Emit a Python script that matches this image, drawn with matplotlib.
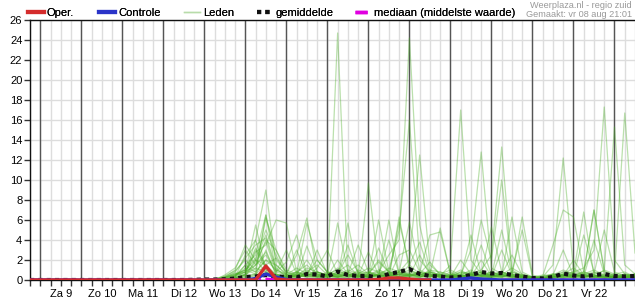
import numpy as np
import pandas as pd
import matplotlib
matplotlib.use("Agg")
import matplotlib.pyplot as plt
from matplotlib.lines import Line2D

# ---------------- data ----------------
times = pd.date_range("2025-08-08 18:00", periods=60, freq="6h")
member_start = 16  # first 6-hourly step drawn for the members (earlier all dry)

day_starts = pd.date_range("2025-08-09", "2025-08-23", freq="D")
day_centres = pd.date_range("2025-08-09 12:00", "2025-08-22 12:00", freq="D")
day_labels = ["Za 9", "Zo 10", "Ma 11", "Di 12", "Wo 13", "Do 14", "Vr 15",
              "Za 16", "Zo 17", "Ma 18", "Di 19", "Wo 20", "Do 21", "Vr 22"]
six_hourly = pd.date_range("2025-08-08 18:00", "2025-08-23 12:00", freq="6h")
y_ticks = list(range(0, 27, 2))

# ensemble members, values from step 16 (vr 12 18h) to step 59, 6-hourly
members_txt = [
 "0  0 0 0 0.2  0.5 1.2 0.8 0.3  0.2 0.5 1.0 0.4  0.5 24.7 0.5 0.2  0.3 0.8 0.4 0.2  0.1 0.3 0.6 0.2  0 0.2 0.5 0.3  0.8 0.4 0.2 0.1  0 0 0.3 0.5  0.2 0.6 0.3 0.1  0.2 0.4 0.1",
 "0  0 0.1 0.3 0.5  1.0 2.0 1.5 0.5  0.3 0.2 0.8 1.5  0.5 0.3 0.2 0.6  1.2 0.8 2.5 4.0  24.2 5.5 1.0 0.4  0.2 0.5 0.3 0.8  0.4 0.2 0.1 0.3  0.1 0 0.2 0.6  1.2 0.5 0.3 0.2  0.1 0.3 0.2",
 "0  0 0 0.2 0.8  2.2 3.5 4.2 1.0  0.5 1.2 0.6 0.3  0.2 0.8 1.5 0.4  0.3 0.6 1.0 5.0  16.0 2.0 0.8 0.3  0.5 1.0 0.4 0.2  0.3 0.8 0.5 0.2  0 0.1 0.4 0.2  0.3 0.2 0.6 0.9  0.4 0.2 0.3",
 "0  0 0 0 0.3  1.5 2.5 6.5 2.0  0.8 0.4 0.3 1.2  3.0 0.6 0.4 0.2  0.5 1.0 0.6 0.8  2.0 12.5 1.5 0.6  0.3 0.2 0.8 0.4  0.2 0.5 1.2 0.6  0.3 0.1 0 0.2  0.5 0.8 0.4 0.3  0.2 0.5 0.3",
 "0  0 0 0.5 1.2  3.0 1.5 2.8 0.6  0.3 0.8 1.5 0.5  0.4 1.2 0.6 0.3  0.8 0.4 0.3 0.6  1.0 0.5 0.8 0.4  1.5 17.0 2.0 0.6  0.4 0.3 0.8 0.5  0.2 0.1 0.5 1.0  0.6 0.3 0.2 0.4  0.3 0.2 0.4",
 "0  0 0 0 0.2  0.6 4.0 9.0 1.5  0.5 0.3 0.6 2.0  0.8 0.4 0.3 1.0  0.6 1.8 0.8 0.3  0.5 0.8 0.4 0.6  1.0 0.5 3.0 12.8  1.2 0.6 0.3 0.2  0.1 0 0.3 0.8  0.4 0.6 1.0 0.5  0.3 0.2 0.6",
 "0  0 0.1 0.4 0.9  2.0 1.0 6.2 3.0  1.0 0.6 0.5 0.8  0.4 0.3 5.7 0.6  0.3 0.5 1.2 0.8  0.6 0.4 1.0 0.8  0.5 0.3 0.6 1.0  2.5 13.3 1.0 0.4  0.2 0.1 0.6 0.4  0.8 0.5 0.3 0.2  0.4 0.6 0.3",
 "0  0 0 0.2 0.5  0.8 2.8 3.5 6.0  5.7 0.8 0.4 0.3  0.6 1.0 0.5 0.3  9.7 1.0 0.5 0.8  0.4 0.6 0.3 0.5  0.3 0.8 0.5 6.0  2.0 10.0 0.8 0.5  0.3 0.2 0.1 0.4  0.6 0.3 0.4 0.2  0.5 0.3 0.2",
 "0  0 0 0 0.4  1.2 0.8 2.0 1.0  0.6 2.5 6.2 0.8  0.5 0.3 0.8 1.5  0.6 0.4 0.3 5.8  1.5 0.6 0.4 0.3  0.2 0.5 1.0 0.4  0.6 0.8 0.4 0.3  0.2 0.3 1.5 12.2  1.0 0.5 0.8 0.4  0.3 0.2 0.5",
 "0  0 0 0.3 0.7  0.4 2.0 4.5 1.2  0.3 0.6 5.7 2.0  0.8 0.5 0.4 0.3  0.6 2.0 0.8 0.5  0.3 0.8 0.6 0.4  0.3 0.2 0.5 0.8  0.4 0.6 0.3 0.5  0.2 0.1 0.3 0.6  0.8 1.2 3.0 17.3  2.0 0.6 0.4",
 "0  0 0 0.1 0.3  0.8 3.2 1.5 0.5  0.4 0.3 3.4 0.8  0.5 0.8 0.6 0.4  0.3 0.6 0.4 0.8  5.8 1.0 0.5 0.3  0.8 0.4 0.6 0.3  0.5 0.4 6.3 0.8  0.3 0.2 0.4 0.6  0.5 0.4 0.3 1.0  15.3 1.5 0.6",
 "0  0 0 0 0.2  0.5 1.5 2.5 0.8  1.8 4.5 0.6 0.4  0.3 0.5 1.0 0.6  0.8 0.4 6.0 0.6  0.5 0.3 0.8 0.5  0.4 0.6 0.3 0.5  5.3 0.8 0.4 0.3  0.2 0.3 0.5 0.4  0.3 0.6 7.0 0.8  0.5 16.7 2.7",
 "0  0 0 0.2 0.6  1.0 2.2 5.0 2.5  0.5 0.8 0.4 3.0  0.6 0.3 0.5 0.8  0.4 0.3 0.6 1.0  0.5 0.8 4.5 4.8  0.6 0.3 0.5 0.4  0.8 0.4 0.5 0.3  0.2 0.4 3.5 7.0  6.3 0.8 0.5 0.3  0.2 0.4 0.3",
 "0  0 0 0.1 0.3  2.5 4.0 1.0 0.6  0.3 0.5 0.8 0.6  0.4 5.7 0.8 0.4  0.3 0.5 0.4 0.6  0.8 0.6 0.3 0.5  0.4 0.8 0.6 0.4  0.3 0.6 0.4 6.3  0.5 0.2 0.3 0.4  0.6 6.8 0.5 0.3  0.4 0.3 0.6",
 "0  0 0 0 0.2  0.6 1.8 3.8 0.8  3.0 0.6 0.4 0.3  0.8 0.5 3.5 0.6  0.4 6.0 0.8 0.5  0.6 0.4 0.5 0.3  0.5 0.3 4.5 0.6  0.4 5.0 0.6 0.3  0.2 0.1 0.2 0.5  0.4 0.8 7.0 1.0  0.6 0.4 0.2",
 "0  0 0 0.3 1.0  3.5 2.0 0.8 0.5  0.4 0.6 2.0 0.5  0.3 0.8 0.5 0.4  2.8 0.5 0.3 2.5  3.0 0.8 0.4 0.5  0.3 0.6 0.8 0.4  0.6 0.3 0.8 5.0  0.3 0.2 0.4 0.3  0.5 0.3 0.6 5.0  0.8 0.4 0.5",
 "0  0 0 0 0.1  0.4 0.6 6.5 0.8  0.5 0.3 0.6 0.4  0.3 0.6 2.5 0.8  0.5 0.4 0.3 6.3  1.0 0.6 0.8 0.5  0.3 0.4 0.6 3.5  0.5 0.8 0.4 0.3  0.2 0.3 0.6 0.4  2.0 0.5 0.3 0.4  0.6 0.8 0.3",
 "0  0 0 0.2 0.4  1.5 0.8 2.0 1.5  0.6 3.0 0.5 0.6  0.4 0.3 0.6 3.5  0.8 0.5 4.0 0.6  0.4 0.3 0.5 5.2  0.6 0.4 0.3 0.8  0.5 0.3 0.6 0.4  0.3 0.5 0.4 0.8  0.6 0.3 0.4 0.5  0.3 0.6 0.4",
 "0  0 0.1 0.3 0.6  0.8 1.5 4.0 3.0  0.6 0.4 1.2 0.8  0.5 0.6 0.4 0.3  0.6 0.8 0.5 0.4  1.5 3.8 0.6 0.4  0.3 2.0 0.6 0.5  0.4 0.6 2.5 0.5  0.3 0.2 0.5 3.0  0.4 0.3 4.0 0.6  0.4 0.5 0.3",
 "0  0 0 0 0.3  0.5 3.0 1.2 0.4  0.3 0.8 0.5 0.6  0.4 2.0 0.6 0.4  0.3 0.5 0.8 0.6  0.4 0.6 1.8 0.5  0.3 0.5 0.4 0.6  0.8 0.5 0.3 0.4  0.2 0.4 0.6 0.5  0.3 4.5 0.8 0.3  0.2 0.5 0.6",
 "0  0 0 0.1 0.2  0.3 0.6 1.5 2.2  0.8 0.5 0.3 0.4  0.6 0.4 0.8 0.5  0.4 3.2 0.6 0.3  0.5 0.4 0.3 0.8  0.4 0.3 0.6 0.5  0.3 3.0 0.5 0.4  0.3 0.2 0.3 0.5  0.4 0.6 0.5 0.3  0.4 0.3 0.5",
 "0  0 0 0 0.1  0.2 0.5 0.8 0.3  0.2 0.4 0.6 0.3  0.2 0.3 0.5 0.4  0.3 0.2 0.4 0.5  0.3 0.2 0.4 0.3  0.2 0.3 0.5 0.4  0.3 0.4 0.2 0.3  0.1 0.2 0.3 0.4  0.2 0.3 0.4 0.2  0.3 0.2 0.4",
 "0  0 0 0.2 0.5  1.0 0.6 0.4 0.3  0.5 0.3 0.4 0.6  0.3 0.5 0.4 0.3  0.5 0.4 0.6 0.3  0.4 2.5 0.5 0.3  0.6 0.4 0.3 2.0  0.4 0.5 0.3 0.2  0.3 0.1 0.2 0.3  0.5 0.4 0.3 0.6  0.3 0.4 0.2",
 "0  0 0 0 0  0.2 0.4 3.0 0.5  0.3 0.2 0.6 0.8  0.4 0.3 0.2 0.5  0.3 0.6 0.4 0.8  0.5 0.3 0.6 0.4  0.3 0.2 0.4 0.5  0.3 0.2 0.6 0.4  0.2 0.3 0.4 0.2  0.3 0.5 0.3 0.4  0.2 0.3 0.3",
 "0  0 0 0.1 0.4  0.8 5.5 1.0 0.4  0.3 0.5 0.3 0.2  0.4 0.3 0.6 0.4  0.3 0.4 0.5 0.3  0.6 0.4 0.3 0.5  0.3 0.4 0.3 0.2  0.3 0.5 0.4 0.3  0.2 0.1 0.2 0.3  0.4 0.3 0.5 0.3  0.2 0.4 0.3",
]
members = [[float(v) for v in s.split()] for s in members_txt]

# operational run (ends ma 18 12h), control, mean and median
oper = [0]*22 + [0.0, 1.4, 0.1, 0.0, 0.0, 0.0, 0.0, 0.0, 0.0, 0.0, 0.0, 0.0,
                 0.05, 0.2, 0.2, 0.1, 0.0, 0.0]
control = [0]*22 + [0.15, 0.6, 0.3, 0.05, 0, 0, 0, 0, 0, 0, 0, 0, 0, 0, 0, 0,
                    0, 0, 0, 0, 0.1, 0.2, 0.1, 0.05, 0, 0, 0, 0, 0, 0, 0, 0,
                    0, 0, 0, 0, 0, 0]
mean = [0]*16 + [0.02, 0.05, 0.05, 0.07, 0.15, 0.3, 0.35, 0.5, 0.35, 0.3, 0.25,
                 0.6, 0.55, 0.35, 0.85, 0.5, 0.4, 0.4, 0.25, 0.6, 0.8, 1.1, 0.6,
                 0.4, 0.35, 0.25, 0.3, 0.5, 0.8, 0.65, 0.7, 0.5, 0.35, 0.2, 0.15,
                 0.3, 0.65, 0.45, 0.35, 0.5, 0.6, 0.4, 0.35, 0.4]
median = [0]*22 + [0.0, 0.1, 0.05] + [0]*35

# ---------------- figure ----------------
plt.rcParams['font.family'] = ['Liberation Sans', 'DejaVu Sans']
fig = plt.figure(figsize=(6.35, 3.0), dpi=100)
ax = fig.add_axes([30/635, 20/300, 605/635, 260/300])

RED, BLUE, MAG = '#d42c2c', '#2a34c8', '#e000e0'
green = '#4caf28'
for m in members:
    ax.plot(times[member_start:], m, color=green, lw=0.9, alpha=0.38, zorder=3)

ax.plot(times, mean, color='#111111', lw=3, linestyle=(0, (1, 1)), zorder=5)
ax.plot(times, median, color=MAG, lw=2, linestyle='-.', zorder=6)
ax.plot(times, control, color=BLUE, lw=2.4, zorder=7)
ax.plot(times[:len(oper)], oper, color=RED, lw=2.4, zorder=8)

ax.set_xlim(times[0], times[-1])
ax.set_ylim(0, 26)
ax.set_yticks(y_ticks)
ax.set_xticks(day_centres)
ax.set_xticklabels(day_labels)
ax.set_xticks(six_hourly, minor=True)
ax.xaxis.remove_overlapping_locs = False

ax.set_axisbelow(True)
ax.grid(axis='x', which='minor', color='#dddddd', lw=1, zorder=0)
ax.grid(axis='y', which='major', color='#dddddd', lw=1, zorder=0)
ax.vlines(day_starts, 0, 26, color='#555555', lw=1, zorder=1)

ax.tick_params(axis='x', which='major', length=0, labelsize=8, pad=6.5)
ax.tick_params(axis='x', which='minor', direction='out', length=4, width=1,
               color='#333333')
ax.tick_params(axis='y', direction='out', length=4, width=1, color='#333333',
               labelsize=8, pad=1.5)
for s in ['left', 'bottom', 'top']:
    ax.spines[s].set_color('#111111')
    ax.spines[s].set_linewidth(1)
ax.spines['right'].set_visible(False)

# legend in the header line, one entry at each reference position
legend_items = [
    (Line2D([], [], color=RED, lw=3), 'Oper.', 28),
    (Line2D([], [], color=BLUE, lw=3), 'Controle', 99),
    (Line2D([], [], color='#b8dcaa', lw=1), 'Leden', 184),
    (Line2D([], [], color='#111111', lw=3, linestyle=(0, (1, 1))), 'gemiddelde', 257),
    (Line2D([], [], color=MAG, lw=2.5, linestyle=(0, (3.5, 1.2, 1, 1.2))),
     'mediaan (middelste waarde)', 355),
]
for handle, label, xpx in legend_items:
    leg = fig.legend([handle], [label], loc='center left',
                     bbox_to_anchor=(xpx/635, 1 - 13/300),
                     bbox_transform=fig.transFigure, frameon=False, fontsize=8,
                     borderpad=0, borderaxespad=0, handlelength=1.4,
                     handletextpad=0.3)
    fig.add_artist(leg)

fig.text(632/635, 1 - 5/300, 'Weerplaza.nl - regio zuid', ha='right',
         va='center', fontsize=6.6, color='#999999')
fig.text(632/635, 1 - 14.5/300, 'Gemaakt: vr 08 aug 21:01', ha='right',
         va='center', fontsize=6.6, color='#999999')

fig.savefig('out.png', dpi=100)
